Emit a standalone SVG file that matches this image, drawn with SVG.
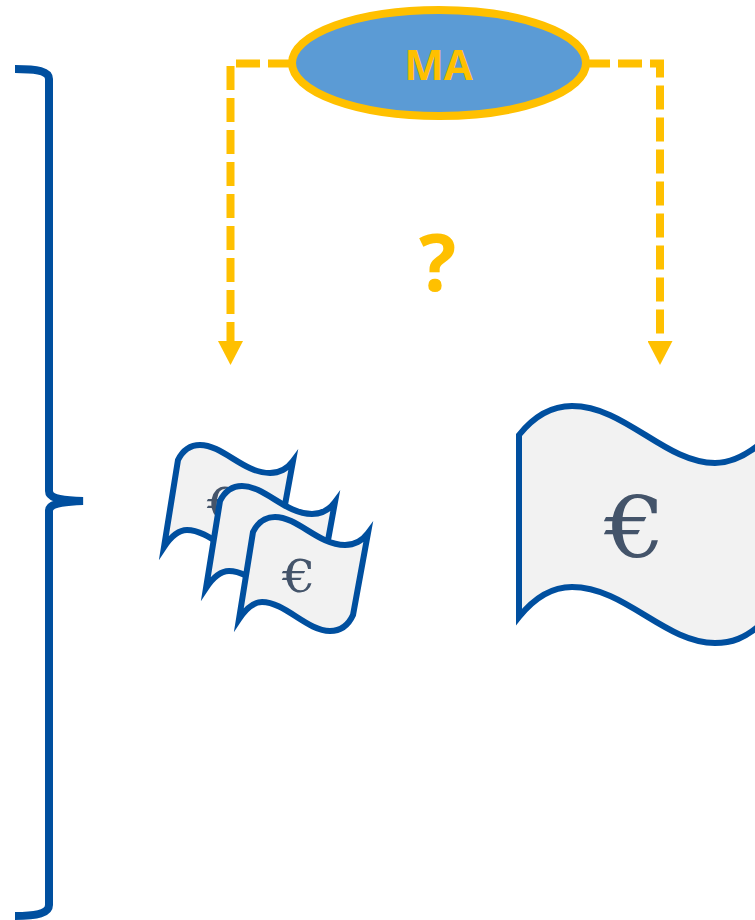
<svg xmlns="http://www.w3.org/2000/svg" width="755" height="920" viewBox="0 0 755 920">
<style>
.note{fill:#F2F2F2;stroke:#004F9F;stroke-width:6;stroke-miterlimit:10}
.euro{font-family:"DejaVu Serif",serif;fill:#44546A;text-anchor:middle}
.dash{fill:none;stroke:#FFC000;stroke-width:8;stroke-dasharray:24 8;marker-end:url(#arr)}
.gold{font-family:"Open Sans",sans-serif;font-weight:700;fill:#FFC000;text-anchor:middle}
</style>
<defs>
<marker id="arr" markerUnits="userSpaceOnUse" markerWidth="26" markerHeight="25" refX="0" refY="12.5" orient="auto"><path d="M0 0L24 12.5L0 25Z" fill="#FFC000"/></marker>
<path id="small" d="M253 532C258 522 266 517 275 517C298 517 318 545 345 545C355 545 362 541 368 533L353 615C348 626 340 631 330 631C307 631 285 602 262 602C252 602 245 610 239 619Z"/>
</defs>
<g id="connectors">
<path class="dash" d="M292 63.500H230.500V341"/>
<path class="dash" d="M586 63.500H660V341"/>
</g>
<g id="brace"><path d="M15 69C38 69 49 71 49 79V491C49 497 56 500 83 501C56 502 49 505 49 511V905C49 913 38 916 15 916" fill="none" stroke="#004F9F" stroke-width="8"/></g>
<g id="ma"><ellipse cx="439" cy="63" rx="147" ry="53" fill="#5B9BD5" stroke="#FFC000" stroke-width="8"/><text class="gold" x="438.500" y="80" font-size="42">MA</text></g>
<g id="question"><text class="gold" x="437.500" y="291" font-size="78">?</text></g>
<g id="note-a"><use href="#small" class="note" transform="translate(-75,-72)"/><text class="euro" transform="translate(224 520) scale(1.180 1)" font-size="45">€</text></g>
<g id="note-b"><use href="#small" class="note" transform="translate(-33,-31)"/></g>
<g id="note-c"><use href="#small" class="note"/><text class="euro" transform="translate(299 592) scale(1.180 1)" font-size="45">€</text></g>
<g id="note-large"><path class="note" d="M519 435C535 415 553 406 572 406C625 406 665 463 715 463C730 463 745 456 760 444V625C745 638 732 643 715 643C665 643 625 587 572 587C553 587 535 597 519 617Z"/><text class="euro" transform="translate(635 557) scale(1.150 1)" font-size="84">€</text></g>
</svg>
